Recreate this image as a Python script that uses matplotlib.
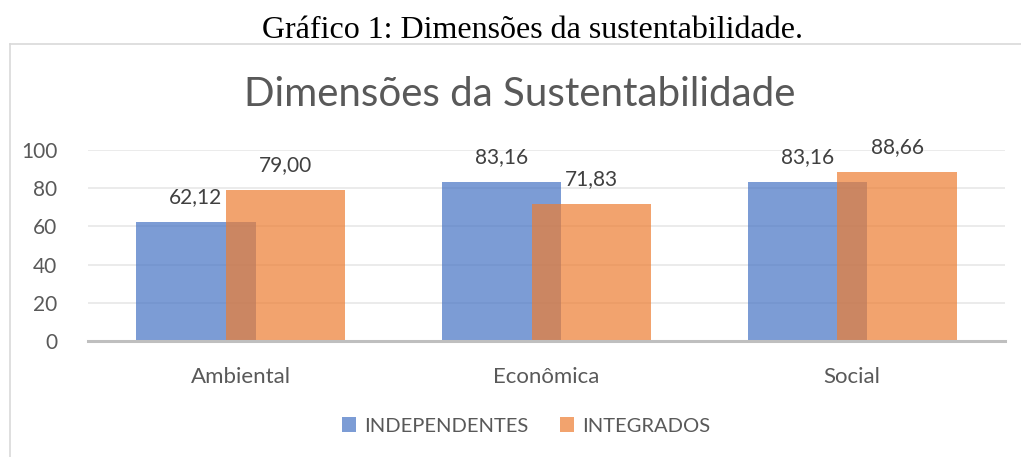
import matplotlib
matplotlib.use("Agg")
import matplotlib.pyplot as plt
from matplotlib.lines import Line2D
from matplotlib.patches import Patch
import numpy as np

categories = ["Ambiental", "Econômica", "Social"]
independentes = [62.12, 83.16, 83.16]
integrados = [79.00, 71.83, 88.66]
series_names = ["INDEPENDENTES", "INTEGRADOS"]
yticks = [0, 20, 40, 60, 80, 100]

W, H = 1021, 457
fig = plt.figure(figsize=(W / 100, H / 100), dpi=100)
fig.patch.set_facecolor("white")

font = "Lato"
txt = "#595959"

# caption
fig.text(532 / W, 1 - 30 / H, "Gráfico 1: Dimensões da sustentabilidade.",
         family="Liberation Serif", fontsize=23, ha="center", va="center", color="black")

# chart frame
fig.add_artist(Line2D([10 / W, 1.0], [1 - 44 / H, 1 - 44 / H], color="#D9D9D9", lw=1.2))
fig.add_artist(Line2D([10 / W, 10 / W], [1 - 44 / H, 0], color="#D9D9D9", lw=1.2))

# chart title
fig.text(520 / W, 1 - 94 / H, "Dimensões da Sustentabilidade",
         family=font, fontsize=29, ha="center", va="center", color=txt)

ax = fig.add_axes([88 / W, 1 - 341 / H, (1005 - 88) / W, (341 - 150) / H])
x = np.arange(len(categories))
bw = 0.39
off = 0.147
blue = "#4472C4"
orange = "#ED7D31"
ax.bar(x - off, independentes, bw, color=blue, alpha=0.7, zorder=2)
ax.bar(x + off, integrados, bw, color=orange, alpha=0.7, zorder=3)

for xs, vals in ((x - off, independentes), (x + off, integrados)):
    for xi, v in zip(xs, vals):
        ax.annotate(f"{v:.2f}".replace(".", ","), (xi, v), xytext=(0, 25), textcoords="offset pixels",
                    ha="center", va="center", family=font, fontsize=15, color="#404040",
                    annotation_clip=False)

ax.set_xlim(-0.5, 2.5)
ax.set_ylim(0, 100)
ax.set_yticks(yticks)
ax.set_yticklabels([str(t) for t in yticks], family=font, fontsize=15, color=txt)
ax.set_xticks(x)
ax.set_xticklabels(categories, family=font, fontsize=16, color=txt)
ax.tick_params(axis="both", length=0)
ax.tick_params(axis="y", pad=22)
ax.tick_params(axis="x", pad=19)
ax.grid(axis="y", color="#E8E8E8", lw=1.2, zorder=0)
ax.set_axisbelow(True)
for s in ["top", "right", "left"]:
    ax.spines[s].set_visible(False)
ax.spines["bottom"].set_color("#BFBFBF")
ax.spines["bottom"].set_linewidth(2.2)
ax.spines["bottom"].set_zorder(4)

handles = [Patch(facecolor=blue, alpha=0.7), Patch(facecolor=orange, alpha=0.7)]
fig.legend(handles, series_names, loc="center", bbox_to_anchor=(526 / W, 1 - 426 / H),
           ncol=2, frameon=False, prop={"family": font, "size": 14.5},
           handlelength=0.7, handleheight=0.7, handletextpad=0.4, columnspacing=1.6,
           labelcolor=txt)

fig.savefig("out.png", dpi=100, facecolor="white")
